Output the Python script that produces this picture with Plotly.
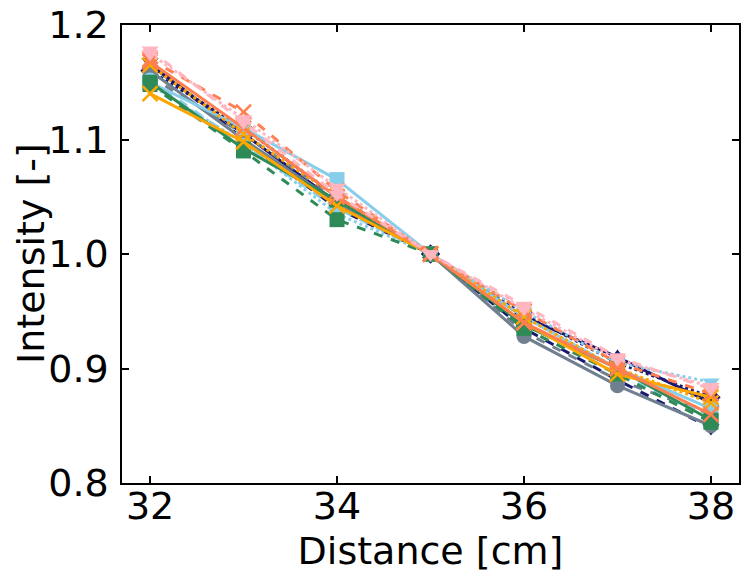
import plotly.graph_objects as go

distance = [32, 33, 34, 35, 36, 37, 38]

names = ["navy_solid", "navy_dot", "navy_dash", "gray_solid", "gray_dash",
         "sky_solid", "sky_dot", "sky_dash", "green_solid", "green_dash",
         "orange_solid", "orange_dot", "coral_dash", "coral_solid",
         "pink_dash", "pink_dot"]

values = [
    [1.165, 1.105, 1.045, 1.0, 0.945, 0.910, 0.870],
    [1.160, 1.110, 1.050, 1.0, 0.948, 0.905, 0.875],
    [1.168, 1.100, 1.040, 1.0, 0.935, 0.890, 0.848],
    [1.160, 1.100, 1.045, 1.0, 0.928, 0.885, 0.850],
    [1.155, 1.105, 1.048, 1.0, 0.932, 0.890, 0.860],
    [1.150, 1.110, 1.065, 1.0, 0.945, 0.900, 0.865],
    [1.148, 1.097, 1.035, 1.0, 0.950, 0.905, 0.888],
    [1.152, 1.095, 1.040, 1.0, 0.940, 0.895, 0.858],
    [1.150, 1.092, 1.047, 1.0, 0.938, 0.900, 0.855],
    [1.148, 1.090, 1.030, 1.0, 0.935, 0.895, 0.853],
    [1.140, 1.098, 1.042, 1.0, 0.940, 0.895, 0.875],
    [1.165, 1.105, 1.050, 1.0, 0.945, 0.900, 0.870],
    [1.170, 1.124, 1.055, 1.0, 0.950, 0.905, 0.878],
    [1.168, 1.110, 1.050, 1.0, 0.940, 0.900, 0.860],
    [1.178, 1.115, 1.052, 1.0, 0.955, 0.910, 0.882],
    [1.175, 1.118, 1.058, 1.0, 0.952, 0.908, 0.884],
]

colors = ["#191970", "#191970", "#191970", "#708090", "#708090",
          "#87CEEB", "#87CEEB", "#87CEEB", "#2E8B57", "#2E8B57",
          "#FFA500", "#FFA500", "#FF7F50", "#FF7F50", "#FFB6C1", "#FFB6C1"]
dashes = ["solid", "dot", "dash", "solid", "dash",
          "solid", "dot", "dash", "solid", "dash",
          "solid", "dot", "dash", "solid", "dash", "dot"]
symbols = ["triangle-up", "diamond", "triangle-down", "circle", "circle",
           "square", "triangle-down", "circle", "square", "square",
           "x-thin", "x-thin", "x-thin", "x-thin", "triangle-down", "triangle-down"]

fig = go.Figure()
for n, v, c, d, s in zip(names, values, colors, dashes, symbols):
    fig.add_trace(go.Scatter(
        x=distance, y=v, name=n, mode="lines+markers",
        line=dict(color=c, width=3, dash=d),
        marker=dict(symbol=s, size=15, color=c,
                    line=dict(color=c, width=2.5 if s == "x-thin" else 0)),
    ))

axis_common = dict(
    showline=True, linecolor="black", linewidth=1.5, mirror="ticks",
    ticks="inside", ticklen=7, tickwidth=1.5, tickcolor="black",
    showgrid=False, zeroline=False, automargin=False,
    tickfont=dict(family="DejaVu Sans", size=38, color="black"),
)

fig.update_layout(
    width=748, height=582,
    margin=dict(l=122, r=9, t=25, b=99),
    plot_bgcolor="white", paper_bgcolor="white",
    showlegend=False,
    font=dict(family="DejaVu Sans", color="black"),
    xaxis=dict(range=[31.7, 38.3], tickvals=[32, 34, 36, 38], ticklabelstandoff=-11,
               title=dict(text="Distance [cm]", font=dict(size=38), standoff=10),
               **axis_common),
    yaxis=dict(range=[0.8, 1.2], tickvals=[0.8, 0.9, 1.0, 1.1, 1.2], tickformat=".1f",
               ticklabelstandoff=4,
               **axis_common),
    annotations=[dict(text="Intensity [-]", xref="paper", yref="paper",
                      x=(31 - 122) / 617, y=0.5, xanchor="center", yanchor="middle",
                      textangle=-90, showarrow=False,
                      font=dict(family="DejaVu Sans", size=38, color="black"))],
)

fig.write_html("out.html", config={"displayModeBar": False},
               post_script="document.body.style.margin='0px';document.body.style.overflow='hidden';")
